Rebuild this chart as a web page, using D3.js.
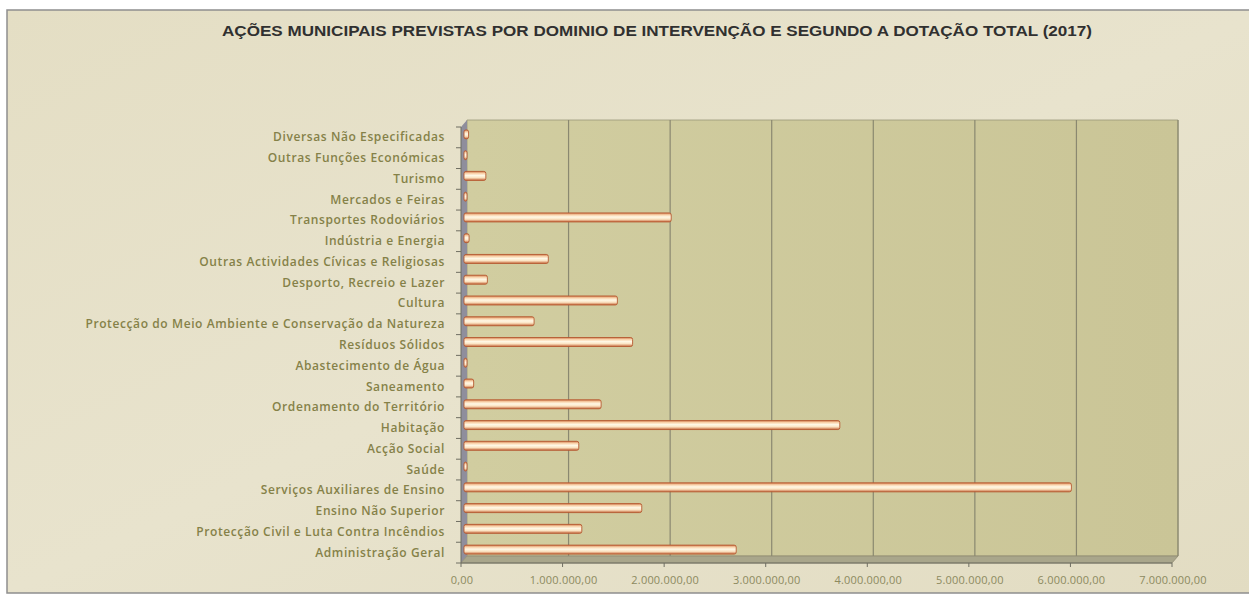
<!DOCTYPE html>
<html>
<head>
<meta charset="utf-8">
<script src="https://cdn.jsdelivr.net/npm/d3@7"></script>
<style>
  body { margin: 0; background: #fff; }
  svg { display: block; }
</style>
</head>
<body>
<svg id="chart" width="1249" height="600"></svg>
<script>
var categories = [
  "Diversas Não Especificadas",
  "Outras Funções Económicas",
  "Turismo",
  "Mercados e Feiras",
  "Transportes Rodoviários",
  "Indústria e Energia",
  "Outras Actividades Cívicas e Religiosas",
  "Desporto, Recreio e Lazer",
  "Cultura",
  "Protecção do Meio Ambiente e Conservação da Natureza",
  "Resíduos Sólidos",
  "Abastecimento de Água",
  "Saneamento",
  "Ordenamento do Território",
  "Habitação",
  "Acção Social",
  "Saúde",
  "Serviços Auxiliares de Ensino",
  "Ensino Não Superior",
  "Protecção Civil e Luta Contra Incêndios",
  "Administração Geral"
];
var values = [45000, 15000, 215000, 12000, 2040000, 50000, 830000, 230000, 1510000, 690000,
  1660000, 8000, 95000, 1350000, 3700000, 1130000, 10000, 5980000, 1750000, 1160000, 2680000];
var xTicks = [0, 1000000, 2000000, 3000000, 4000000, 5000000, 6000000, 7000000];
var title = "AÇÕES MUNICIPAIS PREVISTAS POR DOMINIO DE INTERVENÇÃO E SEGUNDO A DOTAÇÃO TOTAL (2017)";

var svg = d3.select("#chart"),
  plotLeft = 461, plotRight = 1172, plotTop = 127, plotBottom = 563,
  dx = 6, dy = -7;

var pt = d3.formatLocale({decimal: ",", thousands: ".", grouping: [3], currency: ["", ""]});
var fmt = pt.format(",.2f");

var x = d3.scaleLinear().domain([0, 7000000]).range([plotLeft, plotRight]);
var y = d3.scaleBand().domain(categories).range([plotTop, plotBottom]);

var defs = svg.append("defs");
var bg = defs.append("linearGradient").attr("id", "bg").attr("x1", 0).attr("x2", 1).attr("y1", 0).attr("y2", 1);
bg.append("stop").attr("offset", "0%").attr("stop-color", "#e4dec4");
bg.append("stop").attr("offset", "50%").attr("stop-color", "#e8e3cd");
bg.append("stop").attr("offset", "100%").attr("stop-color", "#e2dcc2");

var wall = defs.append("linearGradient").attr("id", "wall").attr("x1", 0).attr("x2", 1).attr("y1", 0).attr("y2", 0);
wall.append("stop").attr("offset", "0%").attr("stop-color", "#d1cda0");
wall.append("stop").attr("offset", "100%").attr("stop-color", "#cac597");

var barG = defs.append("linearGradient").attr("id", "bar").attr("x1", 0).attr("x2", 0).attr("y1", 0).attr("y2", 1);
barG.append("stop").attr("offset", "0%").attr("stop-color", "#d07a4c");
barG.append("stop").attr("offset", "22%").attr("stop-color", "#f9d2aa");
barG.append("stop").attr("offset", "45%").attr("stop-color", "#fff8e6");
barG.append("stop").attr("offset", "70%").attr("stop-color", "#fbe3c2");
barG.append("stop").attr("offset", "100%").attr("stop-color", "#c4663a");

// chart area frame
svg.append("rect")
  .attr("x", 7).attr("y", 10).attr("width", 1260).attr("height", 583)
  .attr("fill", "url(#bg)").attr("stroke", "#8e8e8e").attr("stroke-width", 1.5);

svg.append("text")
  .attr("x", 657).attr("y", 36)
  .attr("text-anchor", "middle")
  .attr("textLength", 870).attr("lengthAdjust", "spacingAndGlyphs")
  .style("font-family", "'Liberation Sans', Arial, sans-serif")
  .style("font-weight", "bold").style("font-size", "14px")
  .attr("fill", "#303030")
  .text(title);

// 3d walls
svg.append("polygon")
  .attr("points", [[plotLeft + dx, plotTop + dy], [plotRight + dx, plotTop + dy], [plotRight + dx, plotBottom + dy], [plotLeft + dx, plotBottom + dy]].join(" "))
  .attr("fill", "url(#wall)").attr("stroke", "#9b9878").attr("stroke-width", 0.8);

svg.append("polygon")
  .attr("points", [[plotLeft, plotTop], [plotLeft + dx, plotTop + dy], [plotLeft + dx, plotBottom + dy], [plotLeft, plotBottom]].join(" "))
  .attr("fill", "#8f8e9c");

svg.append("polygon")
  .attr("points", [[plotLeft, plotBottom], [plotLeft + dx, plotBottom + dy], [plotRight + dx, plotBottom + dy], [plotRight, plotBottom]].join(" "))
  .attr("fill", "#a9a68b").attr("stroke", "#8f8c72").attr("stroke-width", 0.8);

svg.append("g").selectAll("line").data(xTicks.slice(1)).enter().append("line")
  .attr("x1", function(d) { return x(d) + dx; })
  .attr("x2", function(d) { return x(d) + dx; })
  .attr("y1", plotTop + dy)
  .attr("y2", plotBottom + dy)
  .attr("stroke", "#8a8870").attr("stroke-width", 1.2);

// bars
svg.append("g").selectAll("rect").data(values).enter().append("rect")
  .attr("x", x(0) + 3)
  .attr("y", function(d, i) { return y(categories[i]) + y.bandwidth() / 2 - 7.5; })
  .attr("width", function(d) { return Math.max(3, x(d) - x(0)); })
  .attr("height", 9)
  .attr("rx", 2)
  .attr("fill", "url(#bar)")
  .attr("stroke", "#b65a32").attr("stroke-width", 0.9);

// axes
var yAxis = svg.append("g");
yAxis.append("line")
  .attr("x1", plotLeft).attr("x2", plotLeft).attr("y1", plotTop).attr("y2", plotBottom)
  .attr("stroke", "#6f6e62");
yAxis.selectAll("line.tick").data(d3.range(categories.length + 1)).enter().append("line")
  .attr("class", "tick")
  .attr("x1", plotLeft - 5).attr("x2", plotLeft)
  .attr("y1", function(i) { return plotTop + i * y.step(); })
  .attr("y2", function(i) { return plotTop + i * y.step(); })
  .attr("stroke", "#6f6e62");
yAxis.selectAll("text").data(categories).enter().append("text")
  .attr("x", 445)
  .attr("y", function(d) { return y(d) + y.bandwidth() / 2 + 4; })
  .attr("text-anchor", "end")
  .style("font-family", "'Open Sans', sans-serif")
  .style("font-weight", "600").style("font-size", "12px")
  .style("letter-spacing", "0.6px")
  .attr("fill", "#858148")
  .text(function(d) { return d; });

var xAxis = svg.append("g");
xAxis.append("line")
  .attr("x1", plotLeft).attr("x2", plotRight).attr("y1", plotBottom).attr("y2", plotBottom)
  .attr("stroke", "#6f6e62");
xAxis.selectAll("line.tick").data(xTicks).enter().append("line")
  .attr("class", "tick")
  .attr("x1", function(d) { return x(d); }).attr("x2", function(d) { return x(d); })
  .attr("y1", plotBottom).attr("y2", plotBottom + 4)
  .attr("stroke", "#6f6e62");
xAxis.selectAll("text").data(xTicks).enter().append("text")
  .attr("x", function(d) { return x(d) + 1; })
  .attr("y", 584)
  .attr("text-anchor", "middle")
  .style("font-family", "'Open Sans', sans-serif")
  .style("font-size", "11px")
  .style("letter-spacing", "0.2px")
  .attr("fill", "#8c8a60")
  .text(function(d) { return fmt(d); });
</script>
</body>
</html>
